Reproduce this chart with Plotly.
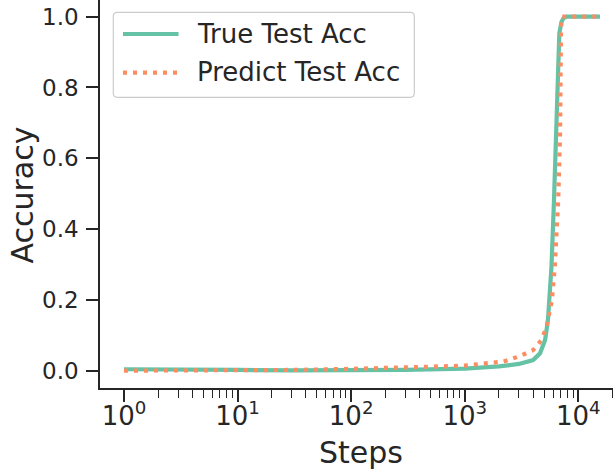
import plotly.graph_objects as go

# Training-step checkpoints and measured / predicted test accuracy
steps_true = [1, 2, 5, 10, 30, 100, 300, 1000, 2000, 3000, 4000, 4600, 5100, 5400,
              5550, 5800, 6100, 6350, 6550, 6800, 7100, 7400, 7900, 10000, 15500]
acc_true = [0.004, 0.004, 0.003, 0.002, 0.001, 0.0, 0.002, 0.006, 0.012, 0.019, 0.030,
            0.049, 0.087, 0.143, 0.20, 0.294, 0.48, 0.67, 0.86, 0.953, 0.985, 0.996,
            1.0, 1.0, 1.0]

steps_pred = [1, 3, 10, 30, 100, 400, 1000, 2200, 3000, 4000, 4750, 5250, 5600, 5850,
              6200, 6650, 6900, 6980, 7030, 7200, 10000, 15500]
acc_pred = [0.0, 0.0, 0.0, 0.002, 0.005, 0.009, 0.014, 0.026, 0.040, 0.058, 0.087,
            0.124, 0.165, 0.20, 0.294, 0.482, 0.67, 0.86, 0.97, 1.0, 1.0, 1.0]

series_names = ["True Test Acc", "Predict Test Acc"]
x_tick_vals = [1, 10, 100, 1000, 10000]
x_tick_text = ["10<sup>0</sup>", "10<sup>1</sup>", "10<sup>2</sup>", "10<sup>3</sup>", "10<sup>4</sup>"]
y_tick_vals = [0.0, 0.2, 0.4, 0.6, 0.8, 1.0]

# minor log ticks: 2..9 within each decade
minor_vals = [m * 10 ** d for d in range(5) for m in range(2, 10)]

GREEN = "#66c2a5"
ORANGE = "#fc8d62"
INK = "#262626"
FONT = "DejaVu Sans"
DOTS = "4px,6px"

W, H = 613, 469
L, R, T, B = 100, 0, 0, 81
PW, PH = W - L - R, H - T - B


def px(x):
    return (x - L) / PW


def py(y):
    return (H - B - y) / PH


fig = go.Figure()
fig.add_trace(go.Scatter(x=steps_true, y=acc_true, mode="lines", name=series_names[0],
                         line=dict(color=GREEN, width=4.2), showlegend=False))
fig.add_trace(go.Scatter(x=steps_pred, y=acc_pred, mode="lines", name=series_names[1],
                         line=dict(color=ORANGE, width=4.2, dash=DOTS), showlegend=False))

# legend box with rounded corners
x0, x1, y0, y1 = 113.3, 414.3, 12.3, 97.3
r = 4.0
rx, ry = r / PW, r / PH
X0, X1, Y0, Y1 = px(x0), px(x1), py(y1), py(y0)
path = (f"M {X0+rx},{Y0} L {X1-rx},{Y0} Q {X1},{Y0} {X1},{Y0+ry} "
        f"L {X1},{Y1-ry} Q {X1},{Y1} {X1-rx},{Y1} L {X0+rx},{Y1} "
        f"Q {X0},{Y1} {X0},{Y1-ry} L {X0},{Y0+ry} Q {X0},{Y0} {X0+rx},{Y0} Z")
shapes = [dict(type="path", path=path, xref="paper", yref="paper",
               line=dict(color="#cccccc", width=1.2), fillcolor="white", layer="above")]
legend_rows = [(34.0, GREEN, "solid"), (72.7, ORANGE, DOTS)]
annotations = []
for (ly, col, dash), name in zip(legend_rows, series_names):
    shapes.append(dict(type="line", xref="paper", yref="paper", x0=px(123), x1=px(178.5),
                       y0=py(ly), y1=py(ly), line=dict(color=col, width=4.2, dash=dash),
                       layer="above"))
    annotations.append(dict(text=name, xref="paper", yref="paper", x=px(195), y=py(ly - 0.5),
                            xanchor="left", yanchor="middle", showarrow=False,
                            font=dict(family=FONT, size=26, color=INK)))

annotations.append(dict(text="Steps", xref="paper", yref="paper", x=px(361), y=py(452),
                        xanchor="center", yanchor="middle", showarrow=False,
                        font=dict(family=FONT, size=30, color=INK)))
annotations.append(dict(text="Accuracy", xref="paper", yref="paper", x=px(21.5), y=py(195),
                        xanchor="center", yanchor="middle", showarrow=False, textangle=-90,
                        font=dict(family=FONT, size=30, color=INK)))

fig.update_layout(
    width=W, height=H,
    margin=dict(l=L, r=R, t=T, b=B, pad=0),
    paper_bgcolor="white", plot_bgcolor="white",
    shapes=shapes, annotations=annotations,
    showlegend=False,
    xaxis=dict(type="log", range=[-0.211, 4.305], showgrid=False, zeroline=False,
               showline=True, linecolor=INK, linewidth=1.6, mirror=False,
               ticks="outside", ticklen=12, tickwidth=1.8, tickcolor=INK,
               tickvals=x_tick_vals, ticktext=x_tick_text, ticklabelstandoff=-8,
               tickfont=dict(family=FONT, size=26, color=INK),
               minor=dict(ticks="outside", ticklen=8.5, tickwidth=1.2, tickcolor=INK,
                          tickmode="array", tickvals=minor_vals, showgrid=False)),
    yaxis=dict(range=[-0.049, 1.047], showgrid=False, zeroline=False,
               showline=True, linecolor=INK, linewidth=1.6, mirror=False,
               ticks="outside", ticklen=12, tickwidth=1.8, tickcolor=INK,
               tickvals=y_tick_vals, tickformat=".1f", ticklabelstandoff=3,
               tickfont=dict(family=FONT, size=23, color=INK)),
)

fig.write_html("out.html")
